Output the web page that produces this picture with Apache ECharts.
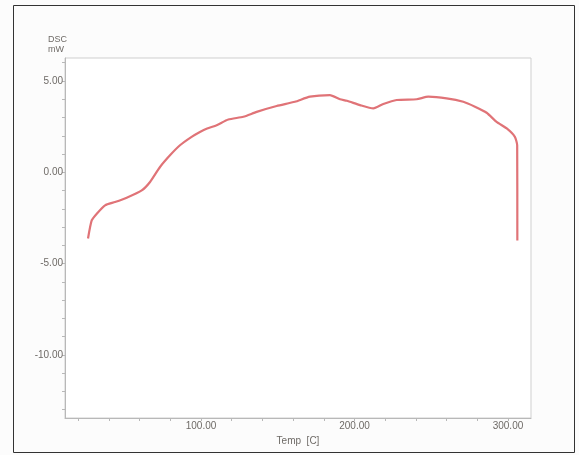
<!DOCTYPE html>
<html>
<head>
<meta charset="utf-8">
<script src="https://cdn.jsdelivr.net/npm/echarts@6/dist/echarts.min.js"></script>
<style>html,body{margin:0;padding:0;background:#fcfcfc}#c{width:579px;height:455px}</style>
</head>
<body>
<div id="c"></div>
<script>
const tempC = [26.4, 28.8, 32.1, 37.5, 44, 51.6, 61.4, 66.8, 73.3, 79.8, 86.3, 93.9, 99.3, 104, 110.2, 117.8, 127.6, 136.3, 149.3, 161.2, 171, 184, 190.6, 195, 203.6, 212.3, 218.8, 227.5, 240.5, 248.1, 260, 270.9, 278.5, 286.1, 292.6, 299.2, 304.5, 306.0, 306.1];
const dscMw = [-3.63, -2.64, -2.27, -1.81, -1.63, -1.39, -0.99, -0.53, 0.29, 0.93, 1.48, 1.94, 2.21, 2.40, 2.58, 2.89, 3.04, 3.31, 3.63, 3.86, 4.14, 4.23, 4.0, 3.92, 3.68, 3.50, 3.74, 3.96, 4.0, 4.14, 4.05, 3.86, 3.59, 3.26, 2.76, 2.40, 1.94, 1.48, -3.74];
const xLabels = [100, 200, 300];
const xTicks = [20, 40, 60, 80, 100, 120, 140, 160, 180, 200, 220, 240, 260, 280, 300];
const yLabels = [-10, -5, 0, 5];
const yTicks = [-13, -12, -11, -10, -9, -8, -7, -6, -5, -4, -3, -2, -1, 0, 1, 2, 3, 4, 5, 6];

const chart = echarts.init(document.getElementById('c'));
const axisCol = '#b8b8b8';
const txtCol = '#6e6a66';
chart.setOption({
  backgroundColor: '#fcfcfc',
  animation: false,
  grid: { left: 65, top: 58, right: 48, bottom: 37, show: true, borderColor: '#cfcfcf', borderWidth: 1, backgroundColor: '#ffffff' },
  graphic: [
    { type: 'rect', shape: { x: 13.5, y: 5.5, width: 561, height: 447 }, style: { fill: 'none', stroke: '#333', lineWidth: 1 }, z: 100 },
    { type: 'text', left: 48, top: 35, style: { text: 'DSC', font: '9px "Liberation Sans", Arial', fill: txtCol } },
    { type: 'text', left: 48, top: 45, style: { text: 'mW', font: '9px "Liberation Sans", Arial', fill: txtCol } }
  ],
  xAxis: {
    type: 'value', min: 11.4, max: 315,
    name: 'Temp  [C]', nameLocation: 'middle', nameGap: 17,
    nameTextStyle: { color: txtCol, fontSize: 10, fontFamily: 'Liberation Sans' },
    axisLine: { onZero: false, lineStyle: { color: axisCol } },
    axisTick: { show: true, length: 3, customValues: xTicks, lineStyle: { color: axisCol } },
    axisLabel: { customValues: xLabels, margin: 3, color: txtCol, fontSize: 10, fontFamily: 'Liberation Sans', formatter: v => v.toFixed(2) },
    splitLine: { show: false }
  },
  yAxis: {
    type: 'value', min: -13.46, max: 6.26,
    axisLine: { show: true, onZero: false, lineStyle: { color: axisCol } },
    axisTick: { show: true, length: 3, customValues: yTicks, lineStyle: { color: axisCol } },
    axisLabel: { customValues: yLabels, margin: 2, color: txtCol, fontSize: 10, fontFamily: 'Liberation Sans', formatter: v => v.toFixed(2) },
    splitLine: { show: false }
  },
  series: [{
    type: 'line',
    data: tempC.map((x, i) => [x, dscMw[i]]),
    showSymbol: false,
    smooth: 0.2,
    lineStyle: { color: '#e07377', width: 2.2 }
  }]
});
</script>
</body>
</html>
